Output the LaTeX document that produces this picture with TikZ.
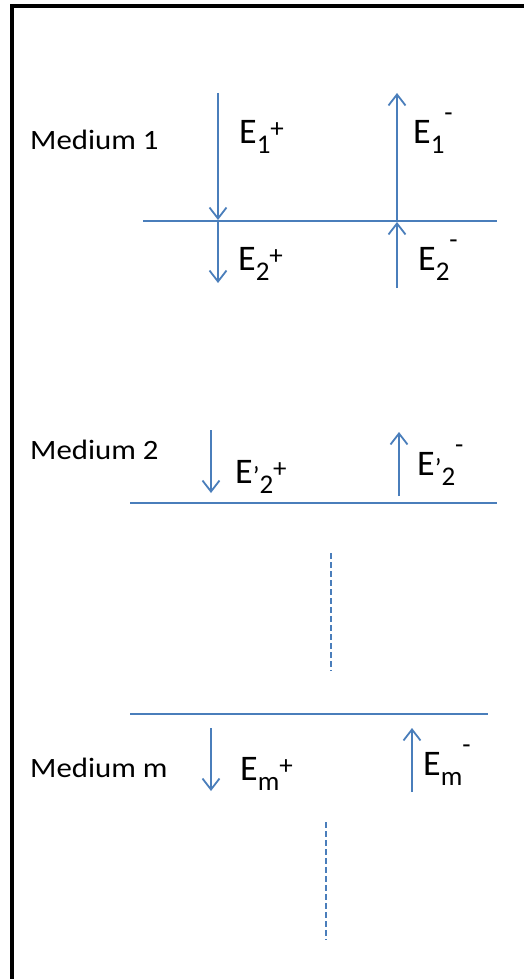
\documentclass[tikz,border=0pt]{standalone}
\usepackage{fontspec}
\setmainfont{Carlito}
\usetikzlibrary{arrows.meta}
\definecolor{lineblue}{RGB}{74,126,187}
\newcommand\sbs[1]{\raisebox{-10pt}{\fontsize{27}{27}\selectfont #1}}
\newcommand\sps[2]{\raisebox{#2}{\fontsize{27}{27}\selectfont #1}}
\newcommand\prm{\raisebox{-2pt}{\fontsize{27}{27}\selectfont ’}}
\newcommand\Ep[1]{E\sbs{#1}\sps{+}{6pt}}
\newcommand\Em[1]{E\sbs{#1}\sps{-}{22pt}}
\newcommand\Epp[1]{E\prm\sbs{#1}\sps{+}{6pt}}
\newcommand\Emp[1]{E\prm\sbs{#1}\sps{-}{22pt}}
\begin{document}
\begin{tikzpicture}[x=1pt,y=-1pt,
  wave/.style={draw=lineblue,line width=1.8pt,-{Straight Barb[length=11pt,width=17pt,line width=1.8pt]}},
  iface/.style={draw=lineblue,line width=1.8pt},
  dots/.style={draw=lineblue,line width=2pt,dash pattern=on 6pt off 3pt},
  medium/.style={anchor=base west,inner sep=0pt,xscale=1.1,font=\fontsize{28}{28}\selectfont},
  elab/.style={anchor=base west,inner sep=0pt,font=\fontsize{36}{36}\selectfont}]
\useasboundingbox (0,0) rectangle (524,979);
% frame
\coordinate (fb) at (12,981);
\coordinate (fc) at (12,6);
\coordinate (fr) at (526,6);
\draw[line width=4pt] (fb) -- (fc) -- (fr);

% medium labels
\node[medium] (m1) at (30,149) {Medium 1};
\node[medium] (m2) at (30,459) {Medium 2};
\node[medium] (mm) at (30,777) {Medium m};

% interfaces
\coordinate (i1l) at (143,221); \coordinate (i1r) at (497,221);
\coordinate (i2l) at (130,503); \coordinate (i2r) at (497,503);
\coordinate (iml) at (130,714); \coordinate (imr) at (488,714);
\draw[iface] (i1l) -- (i1r);
\draw[iface] (i2l) -- (i2r);
\draw[iface] (iml) -- (imr);

% arrows medium 1 / 2
\coordinate (a1s) at (218,93);  \coordinate (a1e) at (218,220);
\coordinate (a2s) at (218,221); \coordinate (a2e) at (218,283);
\coordinate (b1s) at (397,221); \coordinate (b1e) at (397,93);
\coordinate (b2s) at (397,288); \coordinate (b2e) at (397,222);
\draw[wave] (a1s) -- (a1e);
\draw[wave] (a2s) -- (a2e);
\draw[wave] (b1s) -- (b1e);
\draw[wave] (b2s) -- (b2e);

% arrows medium 2
\coordinate (c1s) at (211,430); \coordinate (c1e) at (211,493);
\coordinate (d1s) at (399,496); \coordinate (d1e) at (399,432);
\draw[wave] (c1s) -- (c1e);
\draw[wave] (d1s) -- (d1e);

% arrows medium m
\coordinate (e1s) at (211,728); \coordinate (e1e) at (211,791);
\coordinate (f1s) at (412,792); \coordinate (f1e) at (412,728);
\draw[wave] (e1s) -- (e1e);
\draw[wave] (f1s) -- (f1e);

% labels
\node[elab] (l1p) at (239,143) {\Ep{1}};
\node[elab] (l1m) at (413,143) {\Em{1}};
\node[elab] (l2p) at (238,270) {\Ep{2}};
\node[elab] (l2m) at (418,270) {\Em{2}};
\node[elab] (k2p) at (235,483) {\Epp{2}};
\node[elab] (k2m) at (417,475) {\Emp{2}};
\node[elab] (lmp) at (240,780) {\Ep{m}};
\node[elab] (lmm) at (423,775) {\Em{m}};

% dotted continuation
\coordinate (v1s) at (331,553); \coordinate (v1e) at (331,671);
\coordinate (v2s) at (326,822); \coordinate (v2e) at (326,940);
\draw[dots] (v1s) -- (v1e);
\draw[dots] (v2s) -- (v2e);
\end{tikzpicture}
\end{document}
